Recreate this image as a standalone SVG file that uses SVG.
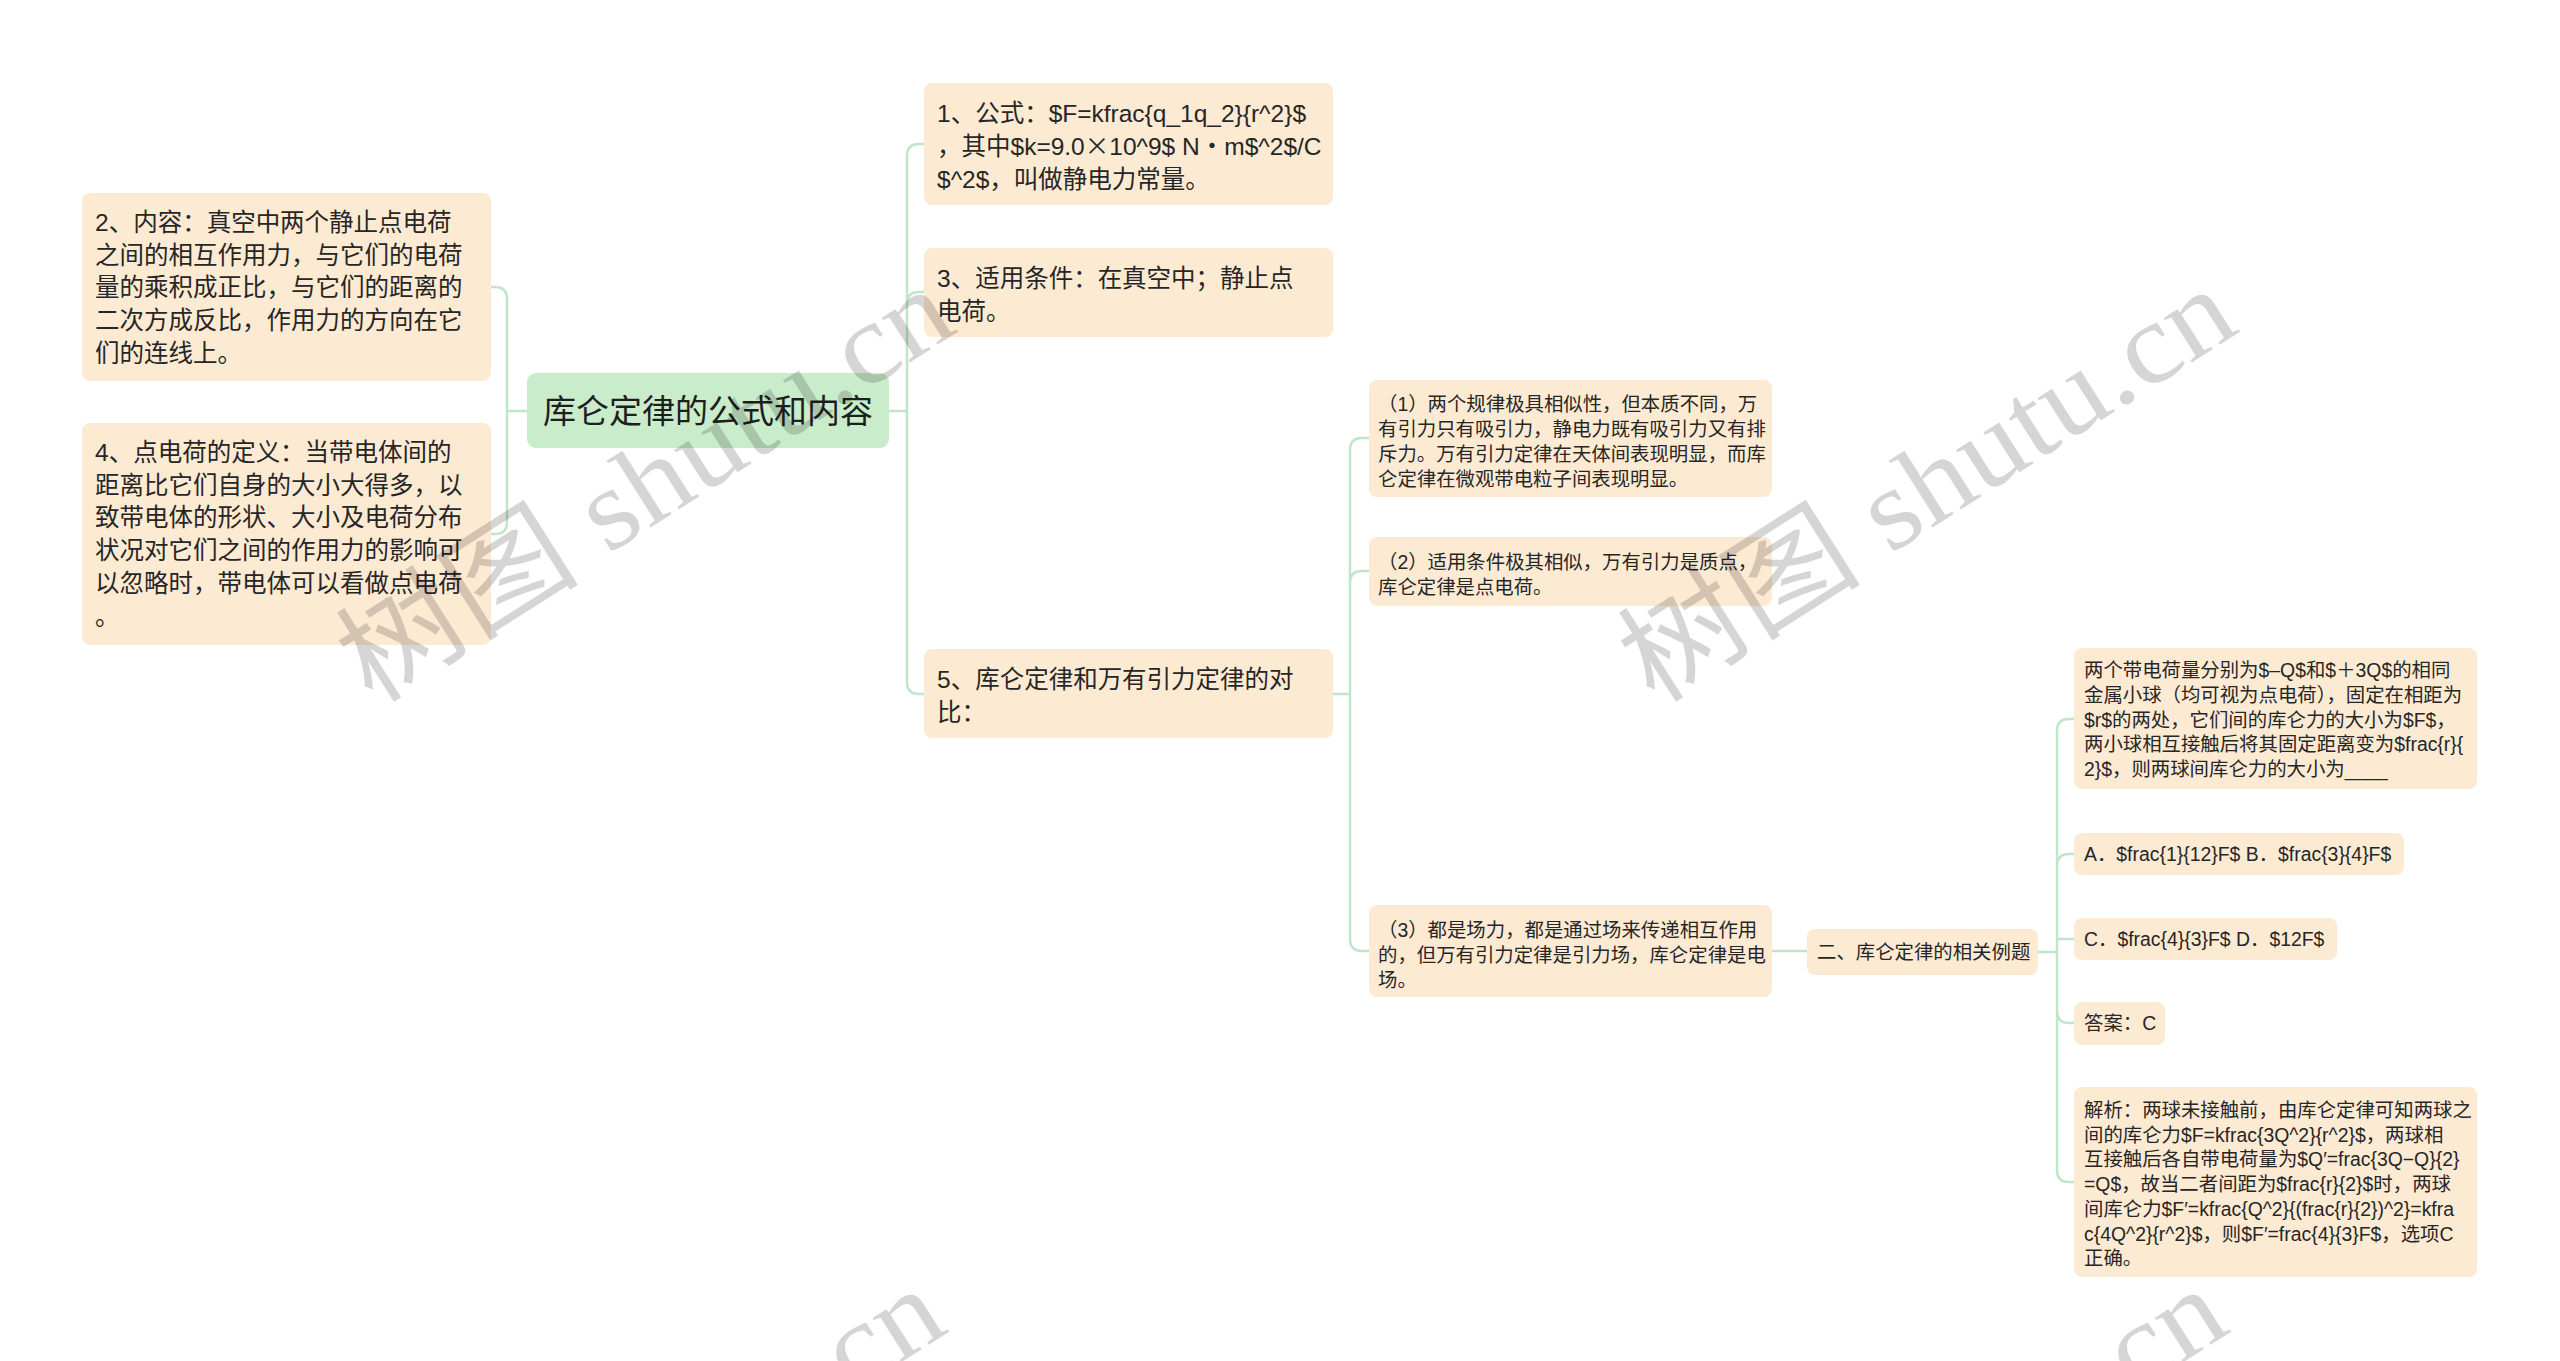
<svg xmlns="http://www.w3.org/2000/svg" width="2560" height="1361" viewBox="0 0 2560 1361">
<style>
.bg{fill:#ffffff}
.n{fill:#fdead3}
.root{fill:#c9ecca}
.t{font-family:"Liberation Sans","Noto Sans CJK SC",sans-serif;fill:#262626}
.cjk{font-family:"Noto Sans CJK SC",sans-serif}
.big{font-size:24.5px}
.sm{font-size:19.4px}
.rt{font-size:33px;fill:#1e1e1e}
.c{fill:none;stroke:#bfe6c8;stroke-width:2.5}
.wm{font-family:"Liberation Serif","Noto Sans CJK SC",serif;font-size:115px;fill:#000;opacity:0.16}
</style>
<rect class="bg" x="0" y="0" width="2560" height="1361"/>
<g id="connectors">
<path class="c" d="M527 411 H507 M507 411 V299 Q507 287 495 287 H490 M507 411 V522 Q507 534 495 534 H490"/>
<path class="c" d="M888 411 H907 M907 411 V156 Q907 144 919 144 H924 M907 411 V304 Q907 292 919 292 H924 M907 411 V682 Q907 694 919 694 H924"/>
<path class="c" d="M1332 694 H1350 M1350 694 V450 Q1350 438 1362 438 H1369 M1350 694 V583 Q1350 571 1362 571 H1369 M1350 694 V939 Q1350 951 1362 951 H1369"/>
<path class="c" d="M1771 951 H1807"/>
<path class="c" d="M2038 952 H2057 M2057 952 V731 Q2057 719 2069 719 H2074 M2057 952 V866 Q2057 854 2069 854 H2074 M2057 952 V1011 Q2057 1023 2069 1023 H2074 M2057 952 V1170 Q2057 1182 2069 1182 H2074 M2057 939 H2074"/>
</g>
<g id="root">
<rect class="root" x="527" y="373" width="362" height="75" rx="9"/>
<text class="t rt" x="708" y="423" text-anchor="middle">库仑定律的公式和内容</text>
</g>
<g id="n2">
<rect class="n" x="82" y="193" width="409" height="188" rx="8"/>
<text class="t big">
<tspan x="95" y="231">2、内容：真空中两个静止点电荷</tspan>
<tspan x="95" y="263.7">之间的相互作用力，与它们的电荷</tspan>
<tspan x="95" y="296.4">量的乘积成正比，与它们的距离的</tspan>
<tspan x="95" y="329.1">二次方成反比，作用力的方向在它</tspan>
<tspan x="95" y="361.8">们的连线上。</tspan>
</text>
</g>
<g id="n4">
<rect class="n" x="82" y="423" width="409" height="222" rx="8"/>
<text class="t big">
<tspan x="95" y="461">4、点电荷的定义：当带电体间的</tspan>
<tspan x="95" y="493.7">距离比它们自身的大小大得多，以</tspan>
<tspan x="95" y="526.4">致带电体的形状、大小及电荷分布</tspan>
<tspan x="95" y="559.1">状况对它们之间的作用力的影响可</tspan>
<tspan x="95" y="591.8">以忽略时，带电体可以看做点电荷</tspan>
<tspan x="95" y="624.5">。</tspan>
</text>
</g>
<g id="n1">
<rect class="n" x="924" y="83" width="409" height="122" rx="8"/>
<text class="t big">
<tspan x="937" y="122">1、公式：$F=kfrac{q_1q_2}{r^2}$</tspan>
<tspan x="937" y="155">，其中$k=9.0<tspan class="cjk">×</tspan>10^9$ N<tspan class="cjk">·</tspan>m$^2$/C</tspan>
<tspan x="937" y="188">$^2$，叫做静电力常量。</tspan>
</text>
</g>
<g id="n3">
<rect class="n" x="924" y="248" width="409" height="89" rx="8"/>
<text class="t big">
<tspan x="937" y="287">3、适用条件：在真空中；静止点</tspan>
<tspan x="937" y="320">电荷。</tspan>
</text>
</g>
<g id="n5">
<rect class="n" x="924" y="649" width="409" height="89" rx="8"/>
<text class="t big">
<tspan x="937" y="688">5、库仑定律和万有引力定律的对</tspan>
<tspan x="937" y="721">比：</tspan>
</text>
</g>
<g id="c1">
<rect class="n" x="1369" y="380" width="403" height="117" rx="8"/>
<text class="t sm">
<tspan x="1378" y="411">（1）两个规律极具相似性，但本质不同，万</tspan>
<tspan x="1378" y="436">有引力只有吸引力，静电力既有吸引力又有排</tspan>
<tspan x="1378" y="461">斥力。万有引力定律在天体间表现明显，而库</tspan>
<tspan x="1378" y="486">仑定律在微观带电粒子间表现明显。</tspan>
</text>
</g>
<g id="c2">
<rect class="n" x="1369" y="537" width="403" height="69" rx="8"/>
<text class="t sm">
<tspan x="1378" y="569">（2）适用条件极其相似，万有引力是质点，</tspan>
<tspan x="1378" y="594">库仑定律是点电荷。</tspan>
</text>
</g>
<g id="c3">
<rect class="n" x="1369" y="905" width="403" height="92" rx="8"/>
<text class="t sm">
<tspan x="1378" y="937">（3）都是场力，都是通过场来传递相互作用</tspan>
<tspan x="1378" y="962">的，但万有引力定律是引力场，库仑定律是电</tspan>
<tspan x="1378" y="987">场。</tspan>
</text>
</g>
<g id="ex">
<rect class="n" x="1807" y="929" width="231" height="46" rx="8"/>
<text class="t sm" x="1817" y="959">二、库仑定律的相关例题</text>
</g>
<g id="q">
<rect class="n" x="2074" y="648" width="403" height="141" rx="8"/>
<text class="t sm">
<tspan x="2084" y="677">两个带电荷量分别为$–Q$和$＋3Q$的相同</tspan>
<tspan x="2084" y="701.8">金属小球（均可视为点电荷），固定在相距为</tspan>
<tspan x="2084" y="726.6">$r$的两处，它们间的库仑力的大小为$F$，</tspan>
<tspan x="2084" y="751.4">两小球相互接触后将其固定距离变为$frac{r}{</tspan>
<tspan x="2084" y="776.2">2}$，则两球间库仑力的大小为____</tspan>
</text>
</g>
<g id="oa">
<rect class="n" x="2074" y="833" width="330" height="42" rx="8"/>
<text class="t sm" x="2084" y="861">A．$frac{1}{12}F$ B．$frac{3}{4}F$</text>
</g>
<g id="oc">
<rect class="n" x="2074" y="918" width="263" height="42" rx="8"/>
<text class="t sm" x="2084" y="946">C．$frac{4}{3}F$ D．$12F$</text>
</g>
<g id="ans">
<rect class="n" x="2074" y="1002" width="91" height="43" rx="8"/>
<text class="t sm" x="2084" y="1030">答案：C</text>
</g>
<g id="jx">
<rect class="n" x="2074" y="1087" width="403" height="190" rx="8"/>
<text class="t sm">
<tspan x="2084" y="1117">解析：两球未接触前，由库仑定律可知两球之</tspan>
<tspan x="2084" y="1141.7">间的库仑力$F=kfrac{3Q^2}{r^2}$，两球相</tspan>
<tspan x="2084" y="1166.4">互接触后各自带电荷量为$Q′=frac{3Q−Q}{2}</tspan>
<tspan x="2084" y="1191.1">=Q$，故当二者间距为$frac{r}{2}$时，两球</tspan>
<tspan x="2084" y="1215.8">间库仑力$F′=kfrac{Q^2}{(frac{r}{2})^2}=kfra</tspan>
<tspan x="2084" y="1240.5">c{4Q^2}{r^2}$，则$F′=frac{4}{3}F$，选项C</tspan>
<tspan x="2084" y="1265.2">正确。</tspan>
</text>
</g>
<g id="watermark">
<text class="wm" transform="translate(372,705) rotate(-32.5)" textLength="697" lengthAdjust="spacingAndGlyphs">树图 shutu.cn</text>
<text class="wm" transform="translate(1654,705) rotate(-32.5)" textLength="697" lengthAdjust="spacingAndGlyphs">树图 shutu.cn</text>
<text class="wm" transform="translate(363,1705) rotate(-32.5)" textLength="697" lengthAdjust="spacingAndGlyphs">树图 shutu.cn</text>
<text class="wm" transform="translate(1645,1705) rotate(-32.5)" textLength="697" lengthAdjust="spacingAndGlyphs">树图 shutu.cn</text>
</g>
</svg>
